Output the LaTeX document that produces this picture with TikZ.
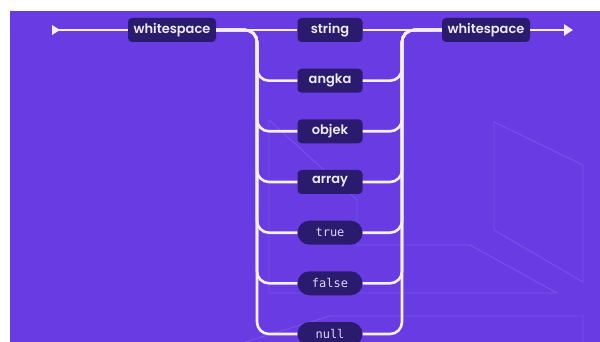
\documentclass[tikz,border=0pt]{standalone}
\usepackage{fontspec}
\newfontfamily\lblfont{Poppins SemiBold}
\newfontfamily\codefont{DejaVu Sans Mono}
\usetikzlibrary{arrows.meta}
\definecolor{bgpurple}{HTML}{683CE2}
\definecolor{boxnavy}{HTML}{2B1B6E}
\definecolor{railwhite}{HTML}{F5F0FF}
\definecolor{labeltext}{HTML}{F0EAFF}
\definecolor{codetext}{HTML}{DDD5FF}
\definecolor{decoline}{HTML}{7853EA}
\tikzset{
  term/.style={fill=boxnavy, rounded corners=4pt, minimum width=65pt,
    minimum height=24pt, inner sep=0pt, text=labeltext,
    font=\lblfont\fontsize{13}{13}\selectfont},
  wsbox/.style={term, minimum width=88pt},
  lit/.style={term, rounded corners=12pt, text=codetext,
    font=\codefont\fontsize{12}{12}\selectfont},
  rail/.style={draw=railwhite, line width=2.6pt},
  deco/.style={draw=decoline, line width=0.9pt},
}
\begin{document}
\begin{tikzpicture}[x=1pt,y=-1pt]
  \clip (0,0) rectangle (600,342);
  \fill[white] (0,0) rectangle (600,342);
  \fill[bgpurple] (10,11) rectangle (600,342);

  % faint background outlines
  \draw[deco] (269,293) -- (269,120) -- (357,200) -- (357,245) -- (470,245)
    -- (557,293) -- cycle;
  \draw[deco] (494,122) -- (583,165) -- (583,282) -- (494,230) -- cycle;
  \draw[deco] (245,342) -- (330,316) -- (583,316) -- (583,342);

  % bus positions
  \coordinate (lbus) at (257,30);
  \coordinate (rbus) at (402,30);
  \coordinate (start) at (52,30);
  \coordinate (end) at (573,30);

  % terms
  \node[wsbox] (ws1) at (172,30) {whitespace};
  \node[wsbox] (ws2) at (486,30) {whitespace};
  \node[term] (str) at (330,30) {string};
  \node[term] (num) at (330,80.7) {angka};
  \node[term] (obj) at (330,131.3) {objek};
  \node[term] (arr) at (330,182) {array};
  \node[lit]  (tru) at (330,232.7) {true};
  \node[lit]  (fls) at (330,283.3) {false};
  \node[lit]  (nul) at (330,334) {null};

  % entry and exit
  \fill[railwhite] (start) ++(0,-5) -- ++(8,5) -- ++(-8,5) -- cycle;
  \draw[rail] (start) -- (ws1.west);
  \draw[rail, -{Triangle[length=9pt,width=11pt]}] (ws2.east) -- (end);

  % straight track
  \draw[rail] (ws1.east) -- (str.west);
  \draw[rail] (str.east) -- (ws2.west);

  % branches
  \foreach \n in {num,obj,arr,tru,fls,nul}{
    \draw[rail, rounded corners=12pt] (ws1.east) -| (lbus |- \n.west) -- (\n.west);
    \draw[rail, rounded corners=12pt] (\n.east) -| (rbus) -- (ws2.west);
  }
\end{tikzpicture}
\end{document}
